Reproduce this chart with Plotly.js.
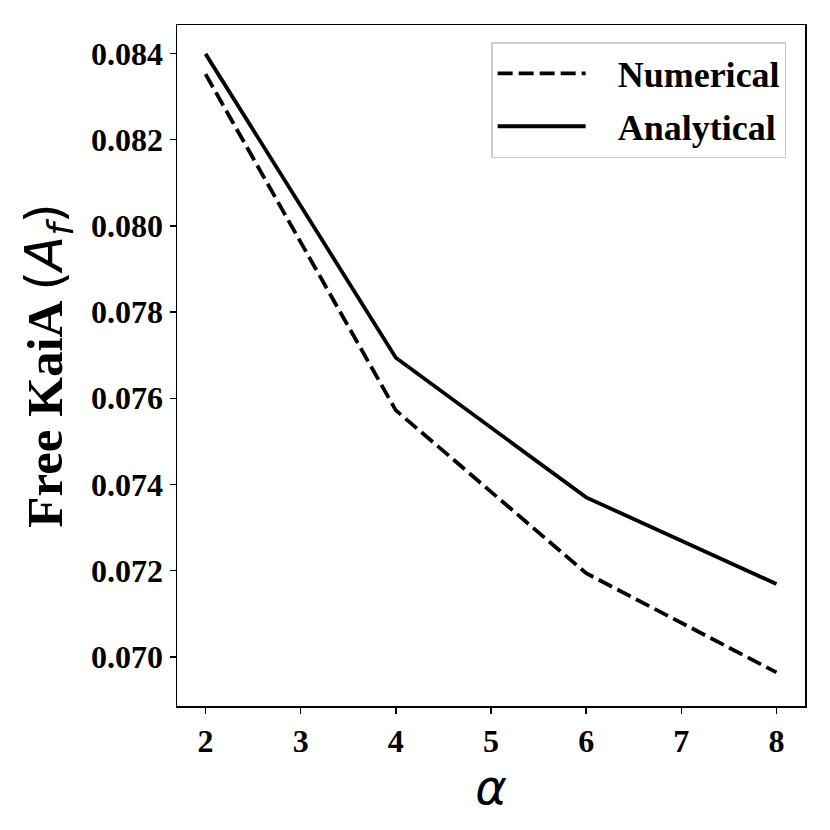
<!DOCTYPE html>
<html>
<head>
<meta charset="utf-8">
<script src="https://cdn.plot.ly/plotly-3.0.1.min.js"></script>
<style>html,body{margin:0;padding:0;background:#fff;}#chart{width:830px;height:830px;}</style>
</head>
<body>
<div id="chart"></div>
<script>
const alpha = [2, 4, 6, 8];
const numerical = [0.08352, 0.07572, 0.07194, 0.06964];
const analytical = [0.08399, 0.07694, 0.07370, 0.07169];
const seriesNames = ['Numerical', 'Analytical'];
const yTickVals = [0.070, 0.072, 0.074, 0.076, 0.078, 0.080, 0.082, 0.084];

const serif = 'Liberation Serif, Times New Roman, serif';
const pad = '\u00a0\u00a0\u00a0';

const traces = [
  {x: alpha, y: numerical, name: pad + seriesNames[0], mode: 'lines', type: 'scatter',
   legendgroup: 'g1', line: {color: 'black', width: 3.8, dash: '15px,6px'}},
  {x: alpha, y: analytical, name: pad + seriesNames[1], mode: 'lines', type: 'scatter',
   legendgroup: 'g2', line: {color: 'black', width: 3.8}}
];

const layout = {
  width: 830, height: 830,
  margin: {l: 177, r: 25, t: 25, b: 124},
  paper_bgcolor: 'white', plot_bgcolor: 'white',
  showlegend: true,
  legend: {
    x: 0.970, y: 0.975, xanchor: 'right', yanchor: 'top',
    bgcolor: 'white', bordercolor: '#cccccc', borderwidth: 1.5,
    font: {family: serif, size: 36, weight: 'bold', color: 'black'},
    itemwidth: 88, traceorder: 'grouped', tracegroupgap: 3
  },
  xaxis: {
    range: [1.7, 8.3], tickvals: [2,3,4,5,6,7,8],
    showgrid: false, zeroline: false,
    showline: true, linecolor: 'black', linewidth: 1.5, mirror: true,
    ticks: 'outside', ticklen: 6, tickwidth: 1.5, tickcolor: 'black',
    tickfont: {family: serif, size: 32, weight: 'bold', color: 'black'},
    title: {text: '<i>α</i>', font: {family: 'DejaVu Sans', size: 48, color: 'black'}, standoff: 0}
  },
  yaxis: {
    range: [0.06886, 0.08466], tickvals: yTickVals, tickformat: '.3f',
    showgrid: false, zeroline: false,
    showline: true, linecolor: 'black', linewidth: 1.5, mirror: true,
    ticks: 'outside', ticklen: 6, tickwidth: 1.5, tickcolor: 'black',
    tickfont: {family: serif, size: 32, weight: 'bold', color: 'black'},
    title: {text: 'Free KaiA <span style="font-family:DejaVu Sans;font-weight:normal">(<i>A</i><sub><i>f</i></sub>)</span>',
            font: {family: serif, size: 51, weight: 'bold', color: 'black'}, standoff: 12}
  }
};

Plotly.newPlot('chart', traces, layout, {displayModeBar: false, staticPlot: true});
</script>
</body>
</html>
